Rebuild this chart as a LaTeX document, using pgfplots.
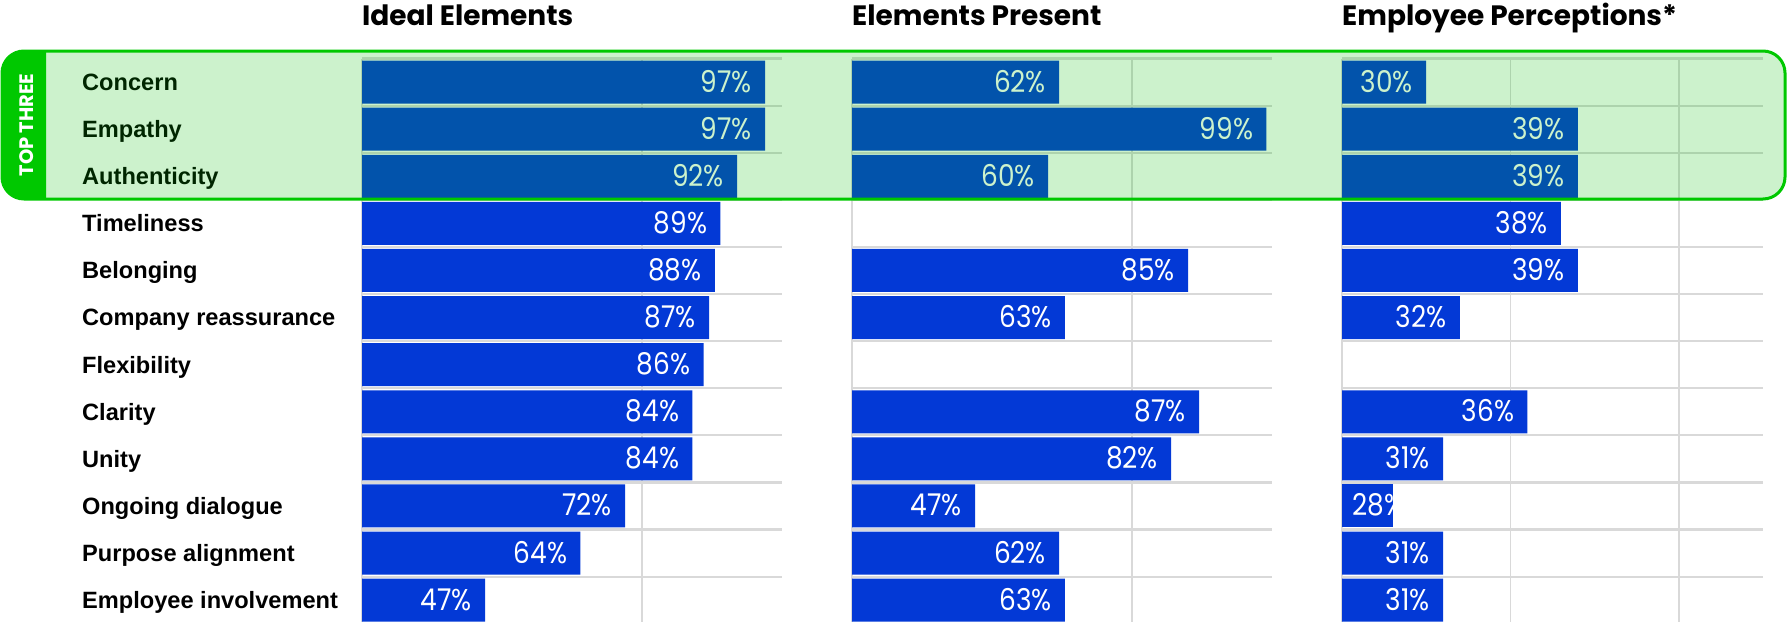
\documentclass[border=0pt]{standalone}
\usepackage{pgfplots}
\pgfplotsset{compat=1.18}
\usepackage{fontspec}
\setmainfont{Liberation Sans}
\newfontfamily\titlefont{Poppins}
\newfontfamily\valfont[FakeStretch=0.88]{Poppins}
\definecolor{barblue}{RGB}{3,57,214}
\definecolor{gridgray}{RGB}{217,217,217}
\definecolor{topgreen}{RGB}{0,200,0}
\definecolor{overlaygreen}{RGB}{0,190,0}
\pgfplotsset{
  panel/.style={
    scale only axis, width=420pt, height=565.2pt,
    anchor=north west,
    y dir=reverse, ymin=0.5, ymax=12.5,
    xmin=25, xmax=100,
    axis line style={draw=none},
    major tick length=0pt, tick style={draw=none},
    xticklabels={},
    xmajorgrids,
    major x grid style={gridgray, line width=1.6pt},
    major y grid style={gridgray, line width=2.2pt},
    ytick={1,...,12}, yticklabels={},
    extra y ticks={0.5,1.5,...,12.5}, extra y tick labels={},
    extra y tick style={grid=major},
    title style={at={(0,1)}, anchor=base west, yshift=27.5pt, inner sep=0pt,
      font=\titlefont\bfseries\fontsize{28}{28}\selectfont},
  },
  bars/.style={xbar, bar shift=0pt, bar width=43pt, fill=barblue, draw=none},
  vals/.style={nodes near coords={\pgfmathprintnumber[assume math mode=true]{\pgfplotspointmeta}\%},
    point meta=x,
    nodes near coords style={anchor=east, xshift=-13pt, inner sep=0pt,
      text height=20pt, text depth=0pt, text=white,
      font=\valfont\fontsize{30}{30}\selectfont}},
}
\begin{document}
\begin{tikzpicture}[x=1pt,y=1pt]
\useasboundingbox (0,0) rectangle (1787,-621);
% Panel 1
\begin{axis}[panel, at={(362pt,-58.5pt)}, xtick={25,75},
  title={Ideal Elements},
  yticklabels={Concern,Empathy,Authenticity,Timeliness,Belonging,Company reassurance,Flexibility,Clarity,Unity,Ongoing dialogue,Purpose alignment,Employee involvement},
  yticklabel style={anchor=west, xshift=-280pt, inner sep=0pt, text height=16.8pt, text depth=0pt,
    font=\bfseries\fontsize{23.6}{23.6}\selectfont}]
\addplot[bars, vals] coordinates {(97,1) (97,2) (92,3) (89,4) (88,5) (87,6) (86,7) (84,8) (84,9) (72,10) (64,11) (47,12)};
\end{axis}
% Panel 2
\begin{axis}[panel, at={(852pt,-58.5pt)}, xtick={25,75},
  title={Elements Present}]
\addplot[bars, vals] coordinates {(62,1) (99,2) (60,3) (85,5) (63,6) (87,8) (82,9) (47,10) (62,11) (63,12)};
\end{axis}
% Panel 3
\begin{axis}[panel, at={(1342pt,-58.5pt)}, width=421pt, xmax=50, xtick={25,35,45},
  title={Employee Perceptions*}]
\addplot[bars, vals] coordinates {(30,1) (39,2) (39,3) (38,4) (39,5) (32,6) (36,8) (31,9) (31,11) (31,12)};
\addplot[bars] coordinates {(28,10)};
\node[anchor=west, xshift=10pt, inner sep=0pt, text height=20pt, text depth=0pt, text=white,
  font=\valfont\fontsize{30}{30}\selectfont] at (axis cs:25,10) {28\%};
\end{axis}
% Top three overlay
\fill[overlaygreen, opacity=0.2, rounded corners=22pt] (2,-51) rectangle (1785,-199);
\begin{scope}
\clip (0,0) rectangle (46,-621);
\fill[topgreen, rounded corners=22pt] (2,-51) rectangle (120,-199);
\end{scope}
\draw[topgreen, line width=3pt, rounded corners=22pt] (2,-51) rectangle (1785,-199);
\node[rotate=90, text=white, inner sep=0pt, font=\titlefont\bfseries\fontsize{19.5}{19.5}\selectfont] at (27,-125) {TOP THREE};
\end{tikzpicture}
\end{document}
